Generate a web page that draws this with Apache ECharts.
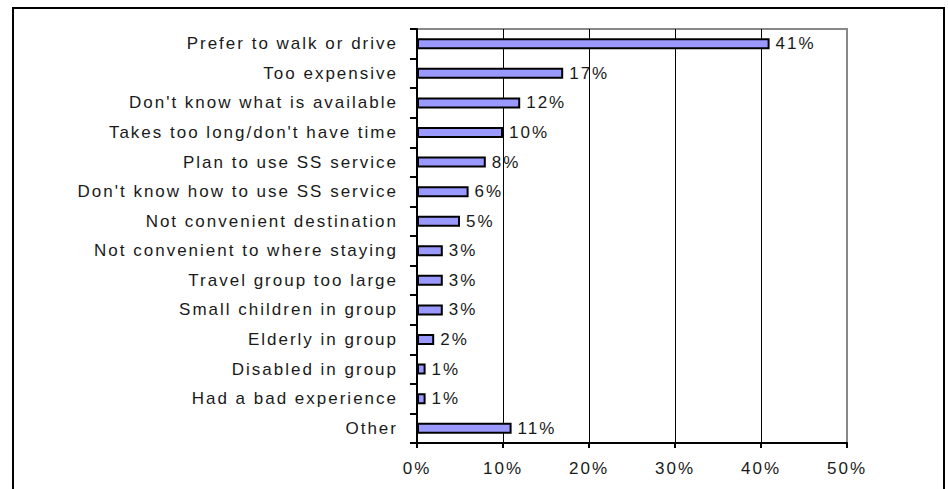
<!DOCTYPE html>
<html>
<head>
<meta charset="utf-8">
<script src="https://cdn.jsdelivr.net/npm/echarts@6/dist/echarts.min.js"></script>
<style>
  html, body { margin: 0; padding: 0; background: #fff; }
  #chart { width: 948px; height: 489px; }
  /* tracked-out lettering for all chart text */
  #chart svg text { letter-spacing: 2px; }
</style>
</head>
<body>
<div id="chart"></div>
<script>
// Reasons given, top to bottom
const categories = [
  'Prefer to walk or drive',
  'Too expensive',
  "Don't know what is available",
  "Takes too long/don't have time",
  'Plan to use SS service',
  "Don't know how to use SS service",
  'Not convenient destination',
  'Not convenient to where staying',
  'Travel group too large',
  'Small children in group',
  'Elderly in group',
  'Disabled in group',
  'Had a bad experience',
  'Other'
];
// Share of respondents (%)
const shares = [41, 17, 12, 10, 8, 6, 5, 3, 3, 3, 2, 1, 1, 11];
// Horizontal axis range and step (%)
const axisMin = 0;
const axisMax = 50;
const axisStep = 10;

const FONT = "'Liberation Sans', Arial, sans-serif";
const TEXT = '#1a1a1a';

const chart = echarts.init(document.getElementById('chart'), null, { renderer: 'svg' });

chart.setOption({
  animation: false,
  backgroundColor: '#fff',
  textStyle: { fontFamily: FONT },
  graphic: [{
    type: 'rect',
    silent: true,
    z: -10,
    shape: { x: 13, y: 8, width: 931, height: 600 },
    style: { fill: 'none', stroke: '#000', lineWidth: 2 }
  }],
  grid: {
    left: 417,
    right: 101,
    top: 29,
    bottom: 46,
    show: true,
    backgroundColor: 'transparent',
    borderColor: '#888',
    borderWidth: 2
  },
  xAxis: {
    type: 'value',
    min: axisMin,
    max: axisMax,
    interval: axisStep,
    axisLine: { show: true, lineStyle: { color: '#000', width: 2 } },
    axisTick: { show: true, length: 5, lineStyle: { color: '#000', width: 2 } },
    axisLabel: {
      formatter: '{value}%',
      fontFamily: FONT,
      fontSize: 17,
      color: TEXT,
      margin: 17
    },
    splitLine: {
      show: true,
      showMinLine: false,
      showMaxLine: false,
      lineStyle: { color: '#000', width: 1 }
    }
  },
  yAxis: {
    type: 'category',
    inverse: true,
    data: categories,
    axisLine: { show: true, lineStyle: { color: '#000', width: 2 } },
    axisTick: { show: true, length: 7, lineStyle: { color: '#000', width: 2 } },
    axisLabel: {
      fontFamily: FONT,
      fontSize: 17,
      color: TEXT,
      margin: 19
    },
    splitLine: { show: false }
  },
  series: [{
    type: 'bar',
    data: shares,
    barWidth: 11,
    itemStyle: { color: '#9999FF', borderColor: '#000', borderWidth: 2 },
    label: {
      show: true,
      position: 'right',
      distance: 6,
      formatter: p => p.value + '%',
      fontFamily: FONT,
      fontSize: 17,
      color: TEXT
    }
  }]
});
</script>
</body>
</html>
